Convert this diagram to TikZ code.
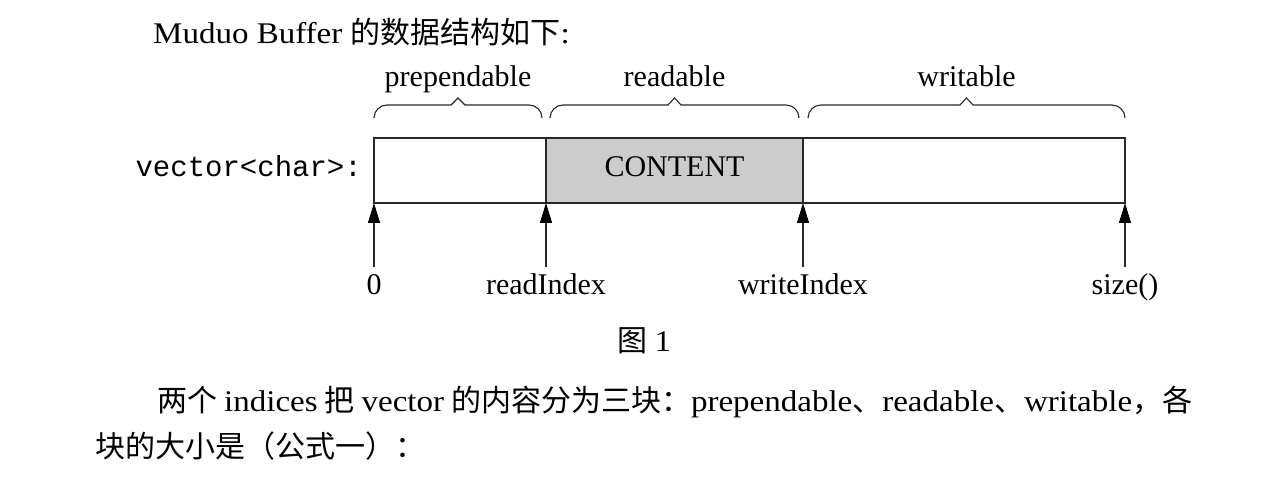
\documentclass[tikz,border=0pt]{standalone}
\usepackage{fontspec}
\setmainfont{Liberation Serif}
\setmonofont{Liberation Mono}
\newfontfamily\cjk{Noto Sans CJK SC}
\newfontfamily\bodyfont[FakeStretch=1.1]{Liberation Serif}
\usetikzlibrary{arrows.meta}
\definecolor{BufGray}{RGB}{204,204,204}
\definecolor{BufLine}{RGB}{40,40,40}

\begin{document}
\begin{tikzpicture}[x=1pt,y=1pt,font=\fontsize{30}{36}\selectfont,
    txt/.style={inner sep=0pt,anchor=base},
    cell/.style={draw=BufLine,line width=1.2pt,minimum height=65pt,inner sep=0pt,outer sep=0pt,anchor=south west},
    brc/.style={draw=BufLine,line width=1.1pt},
    idx/.style={BufLine,line width=1.1pt,-{Triangle[length=20pt,width=12pt,color=black]}}]
      \useasboundingbox (0,0) rectangle (1277,490);
      \node[txt,anchor=base west] (title) at (153,446) {\bodyfont Muduo Buffer {\cjk 的数据结构如下}:};
      % buffer cells
      \node[cell,minimum width=172pt] (pre) at (374,287) {};
      \node[cell,minimum width=257pt,fill=BufGray,text height=20pt,text depth=7pt] (content) at (546,287) {CONTENT};
      \node[cell,minimum width=322pt] (wrt) at (803,287) {};
      \node[txt,anchor=base east,font=\ttfamily\fontsize{29}{36}\selectfont] (vec) at (362,313) {vector<char>:};
      % braces
      \draw[brc] (374,372) arc[start angle=180,end angle=90,radius=13] -- (451,385) -- (458,392) -- (465,385) -- (529,385) arc[start angle=90,end angle=0,radius=13];
      \draw[brc] (550,372) arc[start angle=180,end angle=90,radius=13] -- (668,385) -- (674.5,392) -- (681,385) -- (786,385) arc[start angle=90,end angle=0,radius=13];
      \draw[brc] (808,372) arc[start angle=180,end angle=90,radius=13] -- (960,385) -- (966.5,392) -- (973,385) -- (1112,385) arc[start angle=90,end angle=0,radius=13];
      \node[txt] (lpre) at (458,403) {prependable};
      \node[txt] (lread) at (674.5,403) {readable};
      \node[txt] (lwrt) at (966.5,403) {writable};
      % indices
      \coordinate (b0) at (374,223);
      \coordinate (b1) at (546,223);
      \coordinate (b2) at (803,223);
      \coordinate (b3) at (1125,223);
      \draw[idx] (b0) -- (pre.south west);
      \draw[idx] (b1) -- (pre.south east);
      \draw[idx] (b2) -- (content.south east);
      \draw[idx] (b3) -- (wrt.south east);
      \node[txt] (i0) at (374,195) {0};
      \node[txt] (i1) at (546,195) {readIndex};
      \node[txt] (i2) at (803,195) {writeIndex};
      \node[txt] (i3) at (1125,195) {size()};
      \node[txt] (cap) at (644,138) {{\cjk 图} \bodyfont 1};
      % text below
      \node[txt,anchor=base west] (para1) at (157,78) {\bodyfont\makebox[1035pt][s]{{\cjk 两个} indices {\cjk 把} vector {\cjk 的内容分为三块：}prependable{\cjk 、}readable{\cjk 、}writable{\cjk ，各}}};
      \node[txt,anchor=base west] (para2) at (95,32) {{\cjk 块的大小是（公式一）：}};
    \end{tikzpicture}
\end{document}
